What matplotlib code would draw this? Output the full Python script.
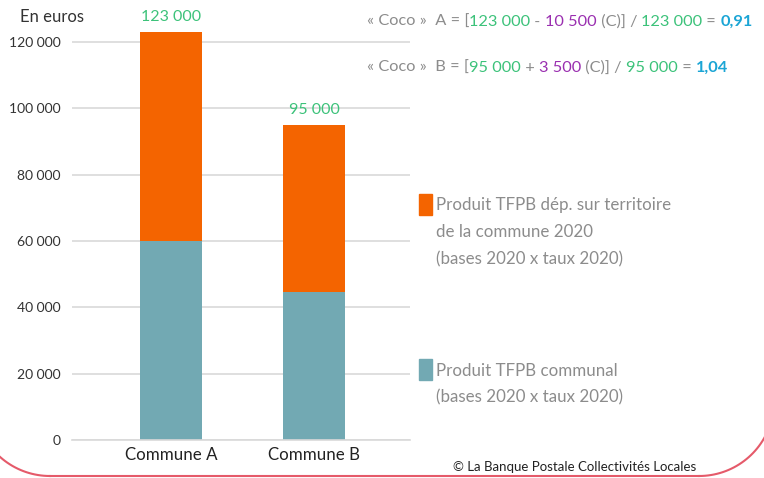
import matplotlib
matplotlib.use('Agg')
import matplotlib.pyplot as plt
import numpy as np
from matplotlib.patches import Rectangle

plt.rcParams['font.family'] = ['Lato', 'DejaVu Sans']

# data
communes = ['Commune A', 'Commune B']
communal = [60000, 44500]          # Produit TFPB communal
dep = [63000, 50500]               # Produit TFPB dép. sur territoire
totals = ['123 000', '95 000']
yticks = [0, 20000, 40000, 60000, 80000, 100000, 120000]
ytick_labels = ['0', '20 000', '40 000', '60 000', '80 000', '100 000', '120 000']

orange = '#f46400'
teal = '#72a9b3'
green = '#3cc27a'
purple = '#9a2fb0'
cyan = '#1ba5d5'
gray = '#8c8c8c'

W, H = 764, 478
fig = plt.figure(figsize=(W / 100, H / 100), dpi=100)
ax = fig.add_axes([72 / W, 38 / H, 338 / W, 418 / H])

x = range(len(communes))
ax.bar(x, communal, width=0.43, color=teal, zorder=2)
ax.bar(x, dep, width=0.43, bottom=communal, color=orange, zorder=2)
for i, t in enumerate(totals):
    ax.text(i, communal[i] + dep[i] + 2500, t, ha='center', va='bottom',
            color=green, fontsize=11.5)

ax.set_xlim(-0.69, 1.67)
ax.set_ylim(0, 126000)
ax.set_yticks(yticks)
ax.set_yticklabels(ytick_labels)
ax.set_xticks(list(x))
ax.set_xticklabels(communes)
ax.tick_params(axis='y', length=0, pad=8, labelsize=10, labelcolor='#333333')
ax.tick_params(axis='x', length=0, pad=5, labelsize=12.2, labelcolor='#222222')
ax.yaxis.grid(True, color='#d9d9d9', linewidth=1.2, zorder=0)
for s in ['top', 'right', 'left']:
    ax.spines[s].set_visible(False)
ax.spines['bottom'].set_color('#d9d9d9')
ax.spines['bottom'].set_linewidth(1.2)

fig.text(20 / W, 1 - 17 / H, 'En euros', fontsize=12, color='#333333', va='center')

# legend
fig.patches.append(Rectangle((419 / W, 1 - 215 / H), 13 / W, 21 / H,
                             transform=fig.transFigure, color=orange))
fig.patches.append(Rectangle((419 / W, 1 - 380 / H), 13 / W, 21 / H,
                             transform=fig.transFigure, color=teal))
for yy, s in [(205, 'Produit TFPB dép. sur territoire'), (232, 'de la commune 2020'),
              (259, '(bases 2020 x taux 2020)'), (371, 'Produit TFPB communal'),
              (397, '(bases 2020 x taux 2020)')]:
    fig.text(436 / W, 1 - yy / H, s, fontsize=12.2, color=gray, va='center')

# formulas
renderer = fig.canvas.get_renderer()


def chain(x0, y0, parts):
    xp = x0
    for s, c, w in parts:
        t = fig.text(xp / W, 1 - y0 / H, s, color=c, fontsize=11.8, fontweight=w,
                     va='center')
        xp += t.get_window_extent(renderer).width


chain(367, 22, [('« Coco »  A = [', gray, 'normal'), ('123 000', green, 'normal'),
                (' - ', gray, 'normal'), ('10 500', purple, 'normal'),
                (' (C)] / ', gray, 'normal'), ('123 000', green, 'normal'),
                (' = ', gray, 'normal'), ('0,91', cyan, 'bold')])
chain(367, 68, [('« Coco »  B = [', gray, 'normal'), ('95 000', green, 'normal'),
                (' + ', gray, 'normal'), ('3 500', purple, 'normal'),
                (' (C)] / ', gray, 'normal'), ('95 000', green, 'normal'),
                (' = ', gray, 'normal'), ('1,04', cyan, 'bold')])

fig.text(453 / W, 1 - 467 / H, '© La Banque Postale Collectivités Locales',
         fontsize=9.5, color='#222222', va='center')

# rounded frame, drawn on an overlay in pixel units (y down)
ov = fig.add_axes([0, 0, 1, 1], zorder=-1)
ov.set_xlim(0, W)
ov.set_ylim(H, 0)
ov.axis('off')
r = 75
a = np.linspace(np.pi / 2, np.pi, 40)
ov.plot(50 + r * np.cos(a), 401 + r * np.sin(a), color='#e55a6a', lw=1.5)
a = np.linspace(0, np.pi / 2, 40)
ov.plot(699 + r * np.cos(a), 401 + r * np.sin(a), color='#e55a6a', lw=1.5)
ov.plot([50, 699], [476, 476], color='#e55a6a', lw=1.5)

fig.savefig('out.png', dpi=100)
